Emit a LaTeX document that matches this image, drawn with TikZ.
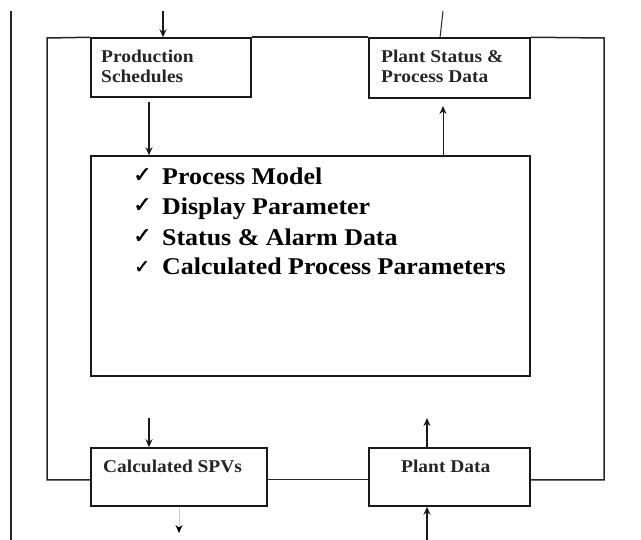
\documentclass[tikz,border=0pt]{standalone}
\usepackage{fontspec}
\setmainfont{Liberation Serif}
\newfontfamily\wideserif[FakeStretch=1.08]{Liberation Serif}
\newfontfamily\symfont[FakeBold=1.5]{DejaVu Sans}
\usetikzlibrary{arrows.meta}
\begin{document}
\begin{tikzpicture}[x=1pt,y=-1pt,
  box/.style={draw=black!90,line width=1.5pt,inner sep=0pt},
  boxlabel/.style={anchor=base west,inner sep=0pt,font=\wideserif\fontsize{18}{20}\selectfont\bfseries,text=black!85},
  listlabel/.style={anchor=base west,inner sep=0pt,font=\wideserif\fontsize{24}{30}\selectfont\bfseries},
  checkmark/.style={anchor=base west,inner sep=0pt,font=\fontsize{22}{24}\selectfont\symfont},
  frame/.style={draw=black!85,line width=1.5pt},
  arr/.style={draw=black!90,line width=1.5pt,-{Stealth[length=8pt,width=7pt]}},
]
\useasboundingbox (0,0) rectangle (641,540);
% left margin line
\coordinate (lm1) at (11,11);
\coordinate (lm2) at (11,540);
\draw[frame] (lm1) -- (lm2);
% boxes
\node[box,minimum width=160pt,minimum height=59pt] (prod) at (171,67.5) {};
\node[box,minimum width=161pt,minimum height=60pt] (stat) at (449.5,68) {};
\node[box,minimum width=439pt,minimum height=220pt] (model) at (310.5,266) {};
\node[box,minimum width=176pt,minimum height=58pt] (spv) at (179,477) {};
\node[box,minimum width=161pt,minimum height=58pt] (pdata) at (449.5,477) {};
% labels
\node[boxlabel] (prodA) at (101,63) {Production};
\node[boxlabel] (prodB) at (101,83) {Schedules};
\node[boxlabel] (statA) at (381,63) {Plant Status \&};
\node[boxlabel] (statB) at (381,83) {Process Data};
\node[boxlabel] (spvl) at (103,473) {Calculated SPVs};
\node[boxlabel] (pdl) at (401,473) {Plant Data};
\node[checkmark] (c1) at (133,182) {✓};
\node[checkmark] (c2) at (133,212) {✓};
\node[checkmark] (c3) at (133,243) {✓};
\node[checkmark,font=\fontsize{19}{22}\selectfont\symfont] (c4) at (134,273) {✓};
\node[listlabel] (l1) at (162,185) {Process Model};
\node[listlabel] (l2) at (162,215) {Display Parameter};
\node[listlabel] (l3) at (162,246) {Status \& Alarm Data};
\node[listlabel] (l4) at (162,275) {Calculated Process Parameters};
% outer frame
\coordinate (ftl) at (47,38);
\coordinate (fbl) at (47,480);
\coordinate (ftr) at (604,38);
\coordinate (fbr) at (604,480);
\draw[frame] (prod.north west) -- (ftl) -- (fbl) -- (spv.west |- fbl);
\draw[frame] (prod.north east) -- (stat.north west);
\draw[frame] (stat.north east) -- (ftr) -- (fbr) -- (pdata.east |- fbr);
\draw[frame,line width=1pt] (spv.east |- fbl) -- (pdata.west |- fbl);
% arrows
\coordinate (in1) at (163,11);
\draw[arr] (in1) -- (in1 |- prod.north);
\coordinate (out1) at (443,11);
\draw[draw=black!85,line width=1pt] (out1) -- (440,38);
\coordinate (a1) at (149,102);
\draw[arr] (a1) -- (a1 |- model.north);
\coordinate (a2) at (443,106);
\draw[arr,line width=1pt] (a2 |- model.north) -- (a2);
\coordinate (a3) at (149,418);
\draw[arr] (a3) -- (a3 |- spv.north);
\coordinate (a4) at (179,533);
\draw[arr,draw=black!20,line width=0.8pt,-{Stealth[length=8pt,width=7pt,color=black]}] (a4 |- spv.south) -- (a4);
\coordinate (a5) at (427,418);
\draw[arr] (a5 |- pdata.north) -- (a5);
\coordinate (a6) at (427,540);
\draw[arr] (a6) -- (a6 |- pdata.south);
\end{tikzpicture}
\end{document}
